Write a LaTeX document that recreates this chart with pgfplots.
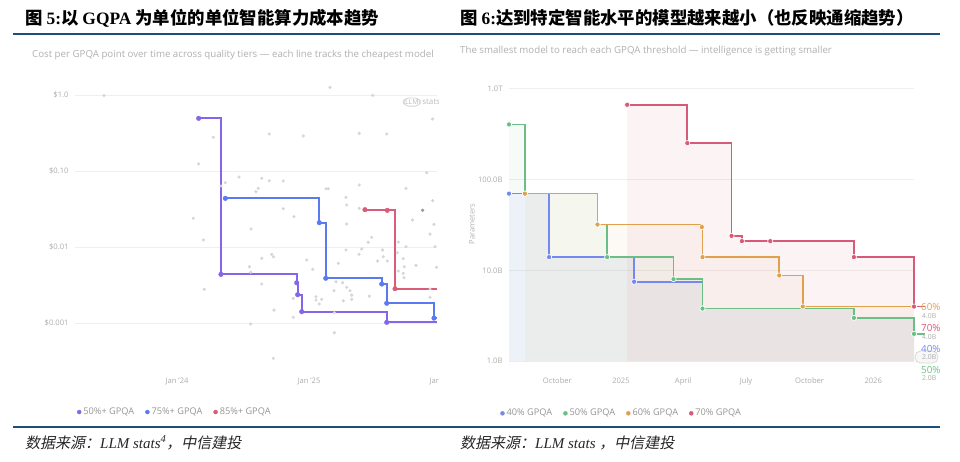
\documentclass[border=0pt]{standalone}
\usepackage{pgfplots}
\pgfplotsset{compat=1.18}
\usepackage{fontspec}
\setmainfont{Open Sans}
\newfontfamily\cjk{Noto Sans CJK SC}
\newfontfamily\cjksl{Noto Sans CJK SC}[FakeSlant=0.2]
\newfontfamily\tnr{Liberation Serif}
\definecolor{rulecol}{HTML}{1F4E7A}
\definecolor{subgray}{HTML}{B0B0B0}
\definecolor{tickgray}{HTML}{ABABAB}
\definecolor{leggray}{HTML}{949494}
\definecolor{dotgray}{HTML}{D6D6D6}
\definecolor{gridgray}{HTML}{EFEFEF}
\definecolor{cP}{HTML}{8566E8}
\definecolor{cB}{HTML}{5B79F0}
\definecolor{cR}{HTML}{D95C78}
\definecolor{rB}{HTML}{7389F0}
\definecolor{rG}{HTML}{6BBF85}
\definecolor{rO}{HTML}{E0A04C}
\definecolor{rR}{HTML}{D65B78}
\pgfplotsset{
  common/.style={
    scale only axis, axis lines=left, axis line style={draw=none,-},
    major tick length=0pt, minor tick length=0pt,
    ymajorgrids, grid style={gridgray, line width=0.6pt},
    tick label style={font=\fontsize{7.6}{9}\selectfont, text=tickgray},
    yticklabel style={anchor=east, xshift=-3pt},
    xticklabel style={yshift=-4pt},
    legend columns=-1,
    legend style={draw=none, fill=none, inner sep=0pt, font=\fontsize{9.2}{11}\selectfont, text=leggray,
      /tikz/every even column/.append style={column sep=9pt}},
    legend image code/.code={\fill[##1] (0pt,0pt) circle (2pt);},
  }
}
\begin{document}
\begin{tikzpicture}[x=1pt,y=-1pt]
\useasboundingbox (0,0) rectangle (960,461);
% titles
\node[anchor=base west, inner sep=0] at (25,24) {\fontsize{17.4}{19}\selectfont\cjk\bfseries 图 {\tnr 5:}以 {\tnr GQPA} 为单位的单位智能算力成本趋势};
\node[anchor=base west, inner sep=0] at (460,24) {\fontsize{17.4}{19}\selectfont\cjk\bfseries 图 {\tnr 6:}达到特定智能水平的模型越来越小（也反映通缩趋势）};
\draw[line width=2pt, rulecol] (13,34) -- (940,34);
\draw[line width=2pt, rulecol] (13,427) -- (940,427);
\node[anchor=base west, inner sep=0, text=subgray] at (32,57) {\fontsize{9.7}{11}\selectfont Cost per GPQA point over time across quality tiers — each line tracks the cheapest model};
\node[anchor=base west, inner sep=0, text=subgray] at (460,53) {\fontsize{9.7}{11}\selectfont The smallest model to reach each GPQA threshold — intelligence is getting smaller};
\node[anchor=base west, inner sep=0, text=black!85] at (25,448) {\fontsize{15}{17}\selectfont\cjksl 数据来源：{\tnr\itshape LLM stats\textsuperscript{4}}，中信建投};
\node[anchor=base west, inner sep=0, text=black!85] at (460,448) {\fontsize{15}{17}\selectfont\cjksl 数据来源：{\tnr\itshape LLM stats }，中信建投};

% ---------------- left chart ----------------
\begin{axis}[common,
  at={(75pt,-370pt)}, anchor=south west, width=362pt, height=290pt,
  xmin=2023.227, xmax=2025.97, ymode=log, ymin=0.000241, ymax=1.575,
  ytick={0.001,0.01,0.1,1}, yticklabels={\$0.001,\$0.01,\$0.10,\$1.0},
  xtick={2024,2025}, xticklabels={Jan '24,Jan '25},
  legend style={at={(0.005,-0.145)}, anchor=west},
]
\addplot[only marks, mark=*, dotgray, mark size=1.4pt, forget plot] coordinates {
(2023.225,0.0213) (2024.164,0.124) (2024.275,0.278) (2024.123,0.0239) (2024.199,0.0124)
(2024.207,0.00278) (2024.333,0.0635) (2024.366,0.0701) (2024.470,0.0833) (2024.642,0.0802)
(2024.699,0.0745) (2024.805,0.0738) (2024.616,0.0592) (2024.598,0.0534) (2024.699,0.307)
(2024.957,0.289) (2025.381,0.313) (2025.589,0.307) (2025.937,0.483) (2025.892,0.095)
(2025.735,0.0592) (2025.937,0.0407) (2025.381,0.0655) (2025.129,0.0585) (2025.146,0.0585)
(2025.280,0.0451) (2025.286,0.0357) (2025.381,0.0323) (2024.805,0.0319) (2024.886,0.0251)
(2024.561,0.0173) (2025.286,0.0201) (2025.785,0.0227) (2025.947,0.0199)
(2025.917,0.0148) (2025.955,0.0101) (2025.475,0.0134) (2025.449,0.0115) (2025.399,0.00941)
(2025.379,0.00802) (2025.280,0.00914) (2025.558,0.00914) (2025.563,0.00745) (2025.593,0.00654)
(2025.520,0.00654) (2025.669,0.00841) (2025.677,0.0116) (2025.735,0.0101) (2025.714,0.00702)
(2025.722,0.00550) (2025.714,0.00451) (2025.720,0.00395) (2025.811,0.00574) (2025.967,0.00541)
(2025.677,0.00483) (2024.717,0.00802) (2024.730,0.00745) (2024.642,0.00710) (2024.548,0.00550)
(2024.558,0.00465) (2024.642,0.00326) (2024.983,0.00675) (2025.028,0.00509) (2025.222,0.00611)
(2025.205,0.00349) (2025.255,0.00339) (2025.189,0.00266) (2025.311,0.00266) (2025.457,0.00226)
(2025.917,0.00280) (2024.881,0.00211) (2024.735,0.00148) (2024.881,0.00119) (2024.558,0.00097)
(2024.730,0.000343) (2025.053,0.00222) (2025.053,0.00201) (2025.096,0.00205) (2025.078,0.00178)
(2025.192,0.00137) (2025.260,0.00196) (2025.286,0.00295) (2025.324,0.00233) (2025.324,0.00205)
(2025.192,0.000745) (2025.917,0.00218) (2023.447,0.985) (2025.159,1.26) (2025.483,0.99)
};
\addplot[only marks, mark=*, gray!80, mark size=1.5pt, forget plot] coordinates {(2025.861,0.0304)};
% lines
\addplot[const plot, cP, line width=1.8pt, forget plot] coordinates {
(2024.164,0.493) (2024.333,0.00437) (2024.907,0.00339) (2024.914,0.00236) (2024.945,0.00141) (2025.589,0.00102) (2025.97,0.00102)};
\addplot[const plot, cB, line width=1.8pt, forget plot] coordinates {
(2024.366,0.0437) (2025.078,0.0209) (2025.127,0.00388) (2025.551,0.00326) (2025.589,0.00182) (2025.947,0.00116) (2025.97,0.00116)};
\addplot[const plot, cR, line width=1.8pt, forget plot] coordinates {
(2025.424,0.0310) (2025.593,0.0304) (2025.652,0.00283) (2025.97,0.00283)};
% marks
\addplot[only marks, mark=*, mark size=2.3pt, cP] coordinates {
(2024.164,0.493) (2024.333,0.00437) (2024.907,0.00339) (2024.914,0.00236) (2024.945,0.00141) (2025.589,0.00102)};
\addplot[only marks, mark=*, mark size=2.3pt, cB] coordinates {
(2024.366,0.0437) (2025.078,0.0209) (2025.127,0.00388) (2025.551,0.00326) (2025.589,0.00182) (2025.947,0.00116)};
\addplot[only marks, mark=*, mark size=2.3pt, cR] coordinates {
(2025.424,0.0310) (2025.593,0.0304) (2025.652,0.00283)};
\legend{50\%+ GPQA, 75\%+ GPQA, 85\%+ GPQA}
\end{axis}
% clipped pieces at the left panel's right edge
\begin{scope}
\clip (380,85) rectangle (438,395);
\node[text=tickgray, inner sep=0] at (441,381) {\fontsize{7.6}{9}\selectfont Jan '26};
\node[anchor=west, draw=gray!35, line width=0.8pt, rounded corners=5pt, inner sep=1.6pt, text=gray!55] (wm) at (403,102) {\fontsize{7}{8}\selectfont LLM};
\node[anchor=west, text=gray!55, inner sep=1.5pt] at (wm.east) {\fontsize{8}{9}\selectfont stats};
\end{scope}

% ---------------- right chart ----------------
\begin{axis}[common,
  at={(509pt,-370pt)}, anchor=south west, width=405pt, height=285pt,
  xmin=-162, xmax=424, ymode=log, ymin=0.8, ymax=1100, clip=false,
  ytick={1,10,100,1000}, yticklabels={1.0B,10.0B,100.0B,1.0T},
  xtick={-92,0,90,181,273,365}, xticklabels={October,2025,April,July,October,2026},
  legend style={at={(-0.022,-0.152)}, anchor=west},
]
% fills
\addplot[const plot, draw=none, fill=rB, fill opacity=0.08, forget plot] coordinates {
(-162,0.8) (-162,70) (-104,14) (19,7.5) (118,3.8) (337,3) (424,2) (424,0.8)} \closedcycle;
\addplot[const plot, draw=none, fill=rG, fill opacity=0.06, forget plot] coordinates {
(-162,0.8) (-162,405) (-139,70) (-34,32) (-20,14) (76,8) (118,3.8) (337,3) (424,2) (424,0.8)} \closedcycle;
\addplot[const plot, draw=none, fill=rO, fill opacity=0.06, forget plot] coordinates {
(-139,0.8) (-139,70) (-34,32) (117,30) (118,14) (229,8.8) (263,4) (424,4) (424,0.8)} \closedcycle;
\addplot[const plot, draw=none, fill=rR, fill opacity=0.07, forget plot] coordinates {
(9,0.8) (9,666) (96,252) (160,24) (175,21) (216,21) (337,14) (424,4) (424,0.8)} \closedcycle;
% lines
\addplot[const plot, rB, line width=1.7pt, forget plot] coordinates {
(-162,70) (-104,14) (19,7.5) (118,3.8) (337,3) (424,2) (440,2)};
\addplot[const plot, rG, line width=1.7pt, forget plot] coordinates {
(-162,405) (-139,70) (-34,32) (-20,14) (76,8) (118,3.8) (337,3) (424,2) (440,2)};
\addplot[const plot, rO, line width=1.7pt, forget plot] coordinates {
(-139,70) (-34,32) (117,30) (118,14) (229,8.8) (263,4) (440,4)};
\addplot[const plot, rR, line width=1.7pt, forget plot] coordinates {
(9,666) (96,252) (160,24) (175,21) (216,21) (337,14) (424,4) (440,4)};
% marks
\addplot[only marks, mark=*, mark size=2.6pt, rB, mark options={draw=white, line width=0.6pt, fill=rB}] coordinates {
(-162,70) (-104,14) (19,7.5) (118,3.8) (337,3) (424,2)};
\addplot[only marks, mark=*, mark size=2.6pt, rG, mark options={draw=white, line width=0.6pt, fill=rG}] coordinates {
(-162,405) (-139,70) (-34,32) (-20,14) (76,8) (118,3.8) (337,3) (424,2)};
\addplot[only marks, mark=*, mark size=2.6pt, rO, mark options={draw=white, line width=0.6pt, fill=rO}] coordinates {
(-139,70) (-34,32) (117,30) (118,14) (229,8.8) (263,4)};
\addplot[only marks, mark=*, mark size=2.6pt, rR, mark options={draw=white, line width=0.6pt, fill=rR}] coordinates {
(9,666) (96,252) (160,24) (175,21) (216,21) (337,14) (424,4)};
\legend{40\% GPQA, 50\% GPQA, 60\% GPQA, 70\% GPQA}
\end{axis}
\node[rotate=90, text=subgray, inner sep=0] at (472,224) {\fontsize{7.6}{9}\selectfont Parameters};
\draw[gray!30, fill=gray!6, line width=0.8pt, rounded corners=5.5pt] (915,351) rectangle (938,363);
\node[anchor=west, inner sep=0, text=rO] at (921,307) {\fontsize{9.8}{11}\selectfont 60\%};
\node[anchor=west, inner sep=0, text=tickgray] at (922,315.7) {\fontsize{6.8}{8}\selectfont 4.0B};
\node[anchor=west, inner sep=0, text=rR] at (921,328) {\fontsize{9.8}{11}\selectfont 70\%};
\node[anchor=west, inner sep=0, text=tickgray] at (922,336.7) {\fontsize{6.8}{8}\selectfont 4.0B};
\node[anchor=west, inner sep=0, text=rB] at (921,349) {\fontsize{9.8}{11}\selectfont 40\%};
\node[anchor=west, inner sep=0, text=tickgray] at (922,357.3) {\fontsize{6.8}{8}\selectfont 2.0B};
\node[anchor=west, inner sep=0, text=rG] at (921,370) {\fontsize{9.8}{11}\selectfont 50\%};
\node[anchor=west, inner sep=0, text=tickgray] at (922,378.5) {\fontsize{6.8}{8}\selectfont 2.0B};
\end{tikzpicture}
\end{document}
